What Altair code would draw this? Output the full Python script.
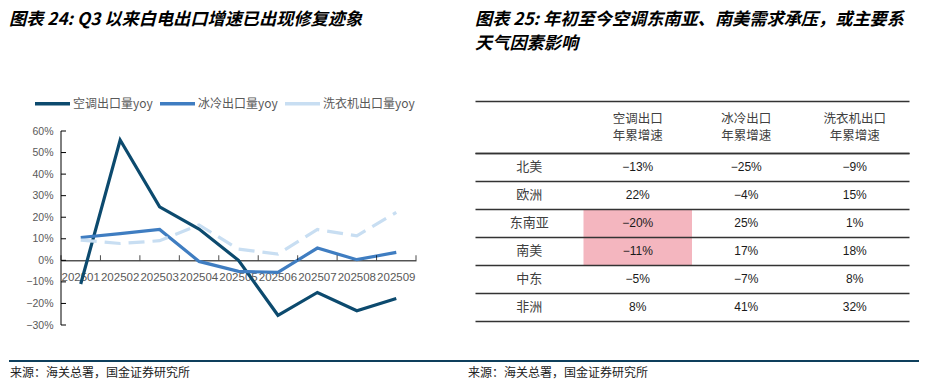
import altair as alt
import pandas as pd

CJK = "Noto Sans CJK SC"
LAT = "Liberation Sans"

# ---------------- data: left line chart ----------------
months = ["202501", "202502", "202503", "202504", "202505",
          "202506", "202507", "202508", "202509"]
ac_yoy = [-11.0, 55.8, 24.8, 14.5, 0.0, -25.5, -14.9, -23.4, -17.7]
fridge_yoy = [10.6, 12.4, 14.3, -0.5, -5.1, -5.6, 5.7, 0.3, 3.7]
washer_yoy = [9.4, 7.8, 9.1, 16.4, 5.2, 2.9, 14.3, 11.4, 22.2]
series_names = ["空调出口量yoy", "冰冷出口量yoy", "洗衣机出口量yoy"]
y_ticks = [-30, -20, -10, 0, 10, 20, 30, 40, 50, 60]

# ---------------- data: right table ----------------
regions = ["北美", "欧洲", "东南亚", "南美", "中东", "非洲"]
col_keys = ["region", "ac", "fridge", "washer"]
header_line1 = ["", "空调出口", "冰冷出口", "洗衣机出口"]
header_line2 = ["", "年累增速", "年累增速", "年累增速"]
ac_ytd = [-13, 22, -20, -11, -5, 8]
fridge_ytd = [-25, -4, 25, 17, -7, 41]
washer_ytd = [-9, 15, 1, 18, 8, 32]
highlight_regions = ["东南亚", "南美"]
highlight_col = "ac"

left_title = "图表 24: Q3 以来白电出口增速已出现修复迹象"
right_title = ["图表 25: 年初至今空调东南亚、南美需求承压，或主要系", "天气因素影响"]
source_note = "来源：海关总署，国金证券研究所"

colors = ["#0c4a6e", "#3f7dc1", "#c8def2"]

# ---------------- left chart ----------------
line_df = pd.DataFrame({
    "month": months * 3,
    "series": [series_names[0]] * 9 + [series_names[1]] * 9 + [series_names[2]] * 9,
    "value": ac_yoy + fridge_yoy + washer_yoy,
})

# plot area gets 30px of head-room above 60% for the legend (194px per 90 points)
y_top = 60 + 30 * 90 / 194
x_scale = alt.Scale(type="band", domain=months, paddingInner=0, paddingOuter=0)
y_scale = alt.Scale(domain=[-30, y_top], nice=False, zero=False)

x_axis = alt.Axis(title=None, labelAngle=0, ticks=False, domain=True,
                  domainColor="#000000", domainWidth=1, offset=-64.67,
                  labelFont=LAT, labelFontSize=11.5, labelColor="#595959",
                  labelPadding=11, labelOverlap=False, labelBound=False, grid=False)
y_axis = alt.Axis(values=y_ticks, title=None, grid=False, ticks=False, domain=False,
                  labelExpr="format(datum.value,'d') + '%'",
                  labelFont=LAT, labelFontSize=10.5, labelColor="#595959",
                  labelPadding=8, minExtent=52)

color_enc = alt.Color("series:N", sort=series_names,
                      scale=alt.Scale(domain=series_names, range=colors),
                      legend=alt.Legend(title=None, orient="none", legendX=-28, legendY=-17,
                                        direction="horizontal", symbolType="stroke",
                                        symbolStrokeWidth=3.5, symbolSize=1225,
                                        symbolDash=[1, 0],
                                        labelFont=CJK, labelFontSize=12,
                                        labelColor="#595959", labelOffset=1,
                                        columnPadding=0))
x_line = alt.X("month:O", sort=months, scale=x_scale, axis=x_axis, bandPosition=0.5)
y_line = alt.Y("value:Q", scale=y_scale, axis=y_axis)

solid_lines = alt.Chart(line_df).transform_filter(
    alt.FieldOneOfPredicate(field="series", oneOf=series_names[:2])
).mark_line(strokeWidth=3.2).encode(x=x_line, y=y_line, color=color_enc)

dashed_line = alt.Chart(line_df).transform_filter(
    alt.FieldEqualPredicate(field="series", equal=series_names[2])
).mark_line(strokeWidth=3.2, strokeDash=[16, 8]).encode(x=x_line, y=y_line, color=color_enc)

span_df = pd.DataFrame({"lo": [y_ticks[0]], "hi": [y_ticks[-1]]})
yline = alt.Chart(span_df).mark_rule(color="#000000", strokeWidth=1).encode(
    y=alt.Y("lo:Q", scale=y_scale, axis=y_axis), y2="hi:Q", x=alt.value(0))

ytick_df = pd.DataFrame({"value": y_ticks})
yticks = alt.Chart(ytick_df).mark_rule(color="#000000", strokeWidth=1).encode(
    y=alt.Y("value:Q", scale=y_scale, axis=y_axis),
    x=alt.value(0), x2=alt.value(5),
)

xtick_df = pd.DataFrame({"month": months, "value": [0] * len(months)})
xticks = alt.Chart(xtick_df).mark_tick(orient="vertical", size=5, thickness=1,
                                       color="#000000").encode(
    x=alt.X("month:O", sort=months, scale=x_scale, axis=x_axis, bandPosition=0),
    y=alt.Y("value:Q", scale=y_scale, axis=y_axis),
    yOffset=alt.value(-2.5),
)
xtick_end = alt.Chart(xtick_df.tail(1)).mark_tick(orient="vertical", size=5, thickness=1,
                                                  color="#000000").encode(
    x=alt.X("month:O", sort=months, scale=x_scale, axis=x_axis, bandPosition=1),
    y=alt.Y("value:Q", scale=y_scale, axis=y_axis),
    yOffset=alt.value(-2.5),
)

left = alt.layer(solid_lines, dashed_line, yline, yticks, xticks, xtick_end).properties(
    width=355, height=224,
    title=alt.TitleParams(text=left_title, anchor="start", frame="bounds",
                          font=CJK, fontSize=17.2, fontWeight="bold",
                          fontStyle="italic", color="#000000", offset=73),
)

# ---------------- right table ----------------
tx_scale = alt.Scale(domain=col_keys, paddingInner=0, paddingOuter=0)
grid_axis = alt.Axis(title=None, labels=False, ticks=False, domain=False, grid=True,
                     tickBand="extent", gridColor="#333333", gridWidth=1.6,
                     minExtent=0, maxExtent=0, zindex=1)

hdr_df = pd.DataFrame({"col": col_keys, "l1": header_line1, "l2": header_line2,
                       "row": ["h"] * 4})
hx = alt.X("col:N", sort=col_keys, scale=tx_scale, axis=None)
hy = alt.Y("row:N", scale=alt.Scale(paddingInner=0, paddingOuter=0), axis=grid_axis)
hdr1 = alt.Chart(hdr_df).mark_text(font=CJK, fontSize=12.5, color="#404040",
                                   baseline="middle", dy=-8.5).encode(
    x=hx, y=hy, text="l1:N")
hdr2 = alt.Chart(hdr_df).mark_text(font=CJK, fontSize=12.5, color="#404040",
                                   baseline="middle", dy=9).encode(
    x=hx, y=hy, text="l2:N")
header = alt.layer(hdr1, hdr2).properties(width=434, height=52)

ty_scale = alt.Scale(domain=regions, paddingInner=0, paddingOuter=0)
tx_enc = alt.X("col:N", sort=col_keys, scale=tx_scale, axis=None)
ty_enc = alt.Y("region:N", sort=regions, scale=ty_scale, axis=grid_axis)

hl_df = pd.DataFrame({"region": highlight_regions, "col": [highlight_col] * len(highlight_regions)})
hl = alt.Chart(hl_df).mark_rect(color="#f4b6bf").encode(x=tx_enc, y=ty_enc)

lab_df = pd.DataFrame({"region": regions, "col": ["region"] * len(regions)})
labels = alt.Chart(lab_df).mark_text(font=CJK, fontSize=13, color="#404040",
                                     baseline="middle").encode(
    x=tx_enc, y=ty_enc, text="region:N")

val_df = pd.DataFrame({
    "region": regions * 3,
    "col": ["ac"] * 6 + ["fridge"] * 6 + ["washer"] * 6,
    "v": ac_ytd + fridge_ytd + washer_ytd,
})
vals = alt.Chart(val_df).transform_calculate(
    txt="format(datum.v,'d') + '%'"
).mark_text(font=LAT, fontSize=12, color="#1a1a1a", baseline="middle").encode(
    x=tx_enc, y=ty_enc, text="txt:N")

body = alt.layer(hl, labels, vals).properties(width=434, height=168)

right = alt.vconcat(header, body, spacing=0).properties(
    title=alt.TitleParams(text=right_title, anchor="start", frame="bounds",
                          font=CJK, fontSize=17.2, fontWeight="bold",
                          fontStyle="italic", color="#000000", lineHeight=24,
                          offset=49),
)

# ---------------- footer ----------------
foot_df = pd.DataFrame({"note": [source_note]})
foot_rule = alt.Chart(foot_df).mark_rule(color="#0e3f5c", strokeWidth=2).encode(
    x=alt.value(-52), x2=alt.value(858), y=alt.value(0))
foot_l = alt.Chart(foot_df).mark_text(font=CJK, fontSize=12, color="#222222",
                                      align="left", baseline="middle").encode(
    x=alt.value(-51), y=alt.value(12), text="note:N")
foot_r = alt.Chart(foot_df).mark_text(font=CJK, fontSize=12, color="#222222",
                                      align="left", baseline="middle").encode(
    x=alt.value(407), y=alt.value(12), text="note:N")
footer = alt.layer(foot_rule, foot_l, foot_r).properties(width=858, height=20)

chart = alt.vconcat(
    alt.hconcat(left, right, spacing=58),
    footer,
    spacing=29,
).properties(padding={"top": 2, "left": 0, "right": 0, "bottom": 0}).configure_view(stroke=None)

chart.save("out.html", embed_options={"renderer": "svg", "actions": False})
